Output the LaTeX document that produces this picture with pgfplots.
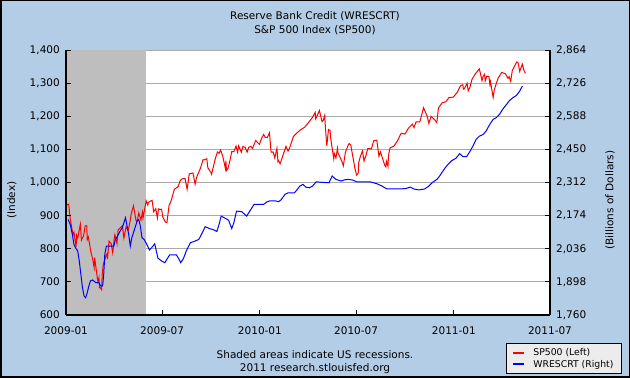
\documentclass[border=0pt]{standalone}
\usepackage{fontspec}
\setmainfont{DejaVu Sans}
\usepackage{pgfplots}
\usepackage{pgfplotstable}
\pgfplotsset{compat=1.18}
\definecolor{fredbg}{RGB}{180,205,230}
\definecolor{recgray}{RGB}{190,190,190}
\definecolor{gridgray}{RGB}{170,170,170}
\definecolor{legbg}{RGB}{236,236,236}

% x = days since 2009-01-01
\pgfplotstableread{
day value
1 931.8
5 934.7
8 890.4
13 842.6
15 850.1
19 805.2
20 840.2
22 832.0
27 874.1
29 825.9
33 838.5
36 868.6
39 869.9
40 827.2
42 835.2
43 826.8
47 789.2
50 770.1
53 743.3
54 773.1
57 735.1
60 700.8
62 712.9
63 682.6
64 683.4
67 676.5
68 719.6
70 750.7
71 756.6
75 778.1
77 784.0
78 768.5
81 822.9
85 815.9
88 787.5
91 834.4
92 842.5
96 815.6
98 856.6
106 869.6
109 832.4
113 866.2
117 855.2
120 877.5
123 907.2
127 929.2
132 883.9
134 882.9
137 908.1
141 887.0
144 910.3
145 893.1
148 919.1
151 944.7
154 931.8
155 940.1
162 946.2
165 911.9
169 921.2
172 893.0
174 920.3
176 918.9
180 919.3
182 896.4
187 881.0
188 879.6
190 879.1
194 931.0
197 940.4
204 979.3
211 987.5
215 1005.7
218 1010.5
224 1012.7
225 1004.1
228 979.7
232 1026.1
239 1028.9
243 994.8
246 1016.4
253 1042.7
258 1068.8
260 1068.3
265 1071.7
267 1044.4
273 1029.9
274 1025.2
281 1071.5
285 1092.0
288 1087.7
291 1097.9
295 1079.6
300 1042.6
301 1066.1
302 1036.2
305 1042.9
309 1069.3
312 1093.1
316 1093.5
320 1110.0
323 1091.4
325 1110.6
330 1091.5
333 1108.9
337 1106.0
341 1091.9
344 1106.4
348 1109.2
351 1102.5
357 1126.5
364 1115.1
368 1133.0
372 1145.0
375 1136.2
379 1136.0
383 1150.2
386 1091.8
390 1092.2
393 1073.9
397 1103.3
399 1063.1
400 1066.2
403 1056.7
407 1075.5
414 1109.2
418 1094.6
421 1104.5
428 1138.7
435 1150.0
442 1159.9
449 1166.6
455 1178.1
463 1194.4
469 1211.7
470 1192.1
477 1217.3
482 1183.7
484 1186.7
487 1202.3
488 1173.6
490 1128.2
491 1110.9
494 1160.0
497 1157.4
498 1135.7
504 1071.6
505 1087.7
508 1074.0
511 1103.1
512 1089.4
519 1064.9
522 1050.5
526 1091.6
532 1116.0
533 1117.5
536 1113.2
540 1076.8
544 1041.2
547 1022.6
550 1028.1
551 1060.3
554 1078.0
558 1095.3
561 1064.9
565 1083.5
568 1102.7
575 1101.6
579 1125.9
585 1127.8
589 1079.3
592 1092.5
596 1071.7
600 1051.9
602 1047.2
603 1064.6
606 1049.3
607 1080.3
608 1090.1
610 1104.5
617 1109.6
624 1125.6
628 1139.8
631 1148.7
638 1146.2
645 1165.2
652 1176.2
655 1165.9
659 1183.1
666 1183.3
673 1225.9
680 1199.2
683 1178.3
687 1199.7
694 1189.4
698 1180.6
701 1224.7
708 1240.4
715 1243.9
721 1256.8
729 1257.6
736 1271.5
743 1293.2
747 1295.0
748 1281.9
750 1283.4
755 1299.5
757 1276.3
760 1286.1
764 1310.9
771 1329.2
778 1343.0
782 1315.4
783 1307.4
785 1319.9
788 1327.2
789 1306.3
792 1321.2
796 1320.0
798 1295.1
799 1304.3
804 1256.9
806 1279.2
813 1313.8
820 1332.4
827 1328.2
832 1314.5
834 1319.7
837 1305.1
840 1337.4
848 1363.6
851 1361.2
854 1335.1
855 1340.2
859 1357.2
862 1337.8
865 1329.5
}\spdata

\pgfplotstableread{
day value
4 2158
8 2137
12 2096
15 2054
18 2040
22 2027
25 1985
28 1929
31 1874
34 1839
37 1832
40 1853
43 1881
46 1902
50 1906
56 1895
62 1895
65 1881
69 1881
71 1929
73 2012
76 2047
85 2047
90 2047
93 2075
97 2089
102 2110
106 2124
109 2145
112 2165
115 2130
118 2096
121 2047
124 2082
130 2124
134 2152
137 2158
140 2130
143 2082
147 2075
152 2055
157 2031
163 2045
167 2057
173 1997
180 1985
186 1978
195 2010
208 2010
212 1995
216 1978
221 1995
227 2030
234 2061
243 2068
250 2075
255 2096
262 2128
270 2120
278 2115
284 2108
288 2137
292 2172
298 2165
306 2155
312 2120
316 2145
321 2193
331 2190
340 2172
346 2193
354 2221
365 2221
372 2221
378 2231
383 2235
395 2235
400 2232
405 2240
412 2262
418 2269
430 2269
435 2282
440 2297
446 2304
452 2292
458 2290
464 2297
471 2315
480 2313
495 2311
501 2339
508 2325
518 2318
524 2323
531 2325
540 2322
547 2315
572 2315
585 2307
595 2297
604 2285
618 2285
629 2285
640 2287
648 2293
655 2285
664 2281
675 2285
683 2297
689 2311
698 2325
702 2335
708 2355
714 2374
720 2390
726 2403
734 2413
741 2432
747 2420
754 2420
760 2440
766 2464
772 2492
778 2505
785 2512
791 2527
797 2552
804 2575
810 2582
816 2596
822 2617
829 2637
835 2654
841 2665
848 2675
854 2693
859 2714
}\wresdata

\begin{document}
\begin{tikzpicture}[font=\fontsize{10.5}{12}\selectfont]
\fill[fredbg] (0,0) rectangle (630pt,378pt);
\path[use as bounding box] (0,0) rectangle (630pt,378pt);
\node at (315pt,362pt) {Reserve Bank Credit (WRESCRT)};
\node at (315pt,348pt) {S\&P 500 Index (SP500)};
\node at (315pt,23pt) {Shaded areas indicate US recessions.};
\node at (315pt,9pt) {2011 research.stlouisfed.org};

\begin{axis}[
  at={(66pt,63pt)}, anchor=south west, scale only axis,
  width=484pt, height=265pt,
  xmin=0, xmax=911, ymin=600, ymax=1400,
  axis background/.style={fill=white},
  axis x line*=bottom, axis y line*=left,
  axis line style={black, line width=1.2pt},
  xtick={0,181,365,546,730,911},
  xticklabels={2009-01,2009-07,2010-01,2010-07,2011-01,2011-07},
  ytick={600,700,...,1400},
  tick align=inside, major tick length=5pt,
  tick style={black, line width=0.9pt},
  xticklabel style={anchor=north, inner sep=0pt, yshift=-12pt},
  yticklabel style={anchor=east, inner sep=0pt, xshift=-6pt},
  scaled y ticks=false,
  /pgf/number format/assume math mode=true,
  /pgf/number format/1000 sep={,},
  axis on top,
  ylabel={(Index)},
  ylabel style={at={(axis description cs:-0.112,0.434)}, anchor=center},
]
\fill[recgray] (axis cs:0,600) rectangle (axis cs:151,1400);
\pgfplotsinvokeforeach{700,800,...,1400}{
  \draw[gridgray, line width=1pt] (axis cs:151,#1) -- (axis cs:911,#1);
}
\addplot[red, line width=1pt, mark=none] table[x=day, y=value] {\spdata};
\end{axis}

\begin{axis}[
  at={(66pt,63pt)}, anchor=south west, scale only axis,
  width=484pt, height=265pt,
  xmin=0, xmax=911, ymin=1760, ymax=2864,
  hide x axis,
  axis y line*=right,
  axis line style={black, line width=1.2pt},
  ytick={1760,1898,2036,2174,2312,2450,2588,2726,2864},
  tick align=inside, major tick length=5pt,
  tick style={black, line width=0.9pt},
  yticklabel style={anchor=west, inner sep=0pt, xshift=6pt},
  scaled y ticks=false,
  /pgf/number format/assume math mode=true,
  /pgf/number format/1000 sep={,},
  ylabel={(Billions of Dollars)},
  ylabel style={at={(axis description cs:1.124,0.434)}, anchor=center},
  legend style={at={(axis description cs:0.909,-0.106)}, anchor=north west,
    draw=black, fill=legbg, line width=0.8pt, font=\fontsize{9.3}{10}\selectfont,
    inner xsep=6pt, inner ysep=3pt, row sep=-1pt, cells={anchor=west},
    /tikz/every odd column/.append style={column sep=6pt}},
  legend image code/.code={\draw[#1, line width=2pt] (0pt,0pt) -- (11pt,0pt);},
]
\addlegendimage{red}
\addlegendentry{SP500 (Left)}
\addplot[blue, line width=1pt, mark=none] table[x=day, y=value] {\wresdata};
\addlegendentry{WRESCRT (Right)}
\end{axis}
\draw[black, line width=1.5pt] (0.75pt,0.75pt) rectangle (629.25pt,377.25pt);
\end{tikzpicture}
\end{document}
